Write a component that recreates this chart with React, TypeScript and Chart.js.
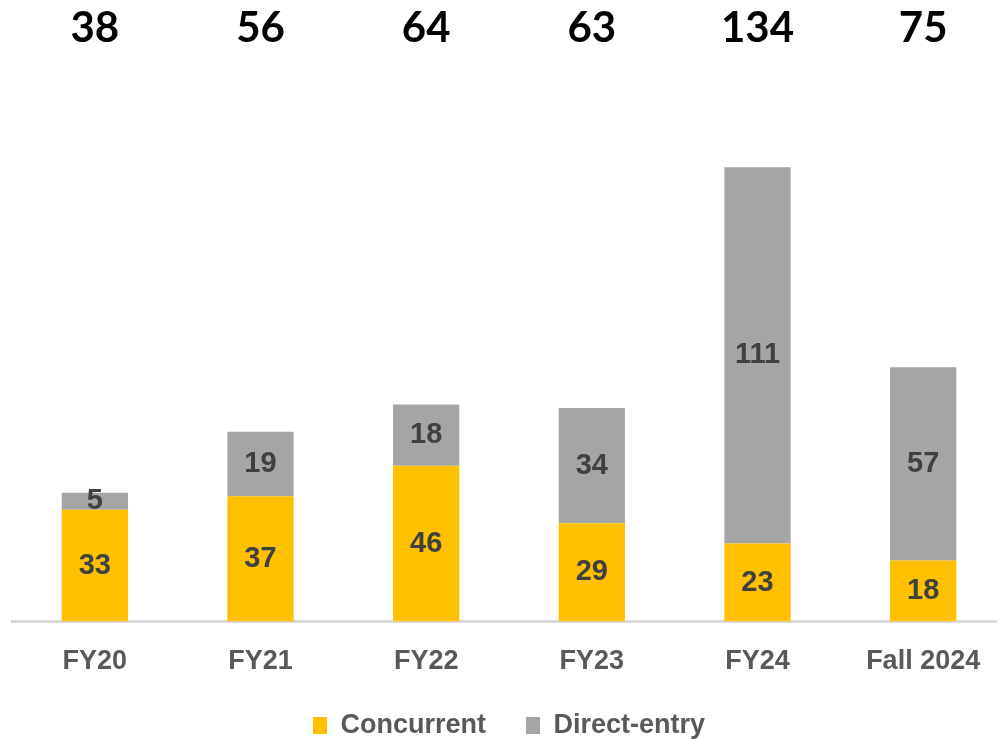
import React, { useEffect, useRef } from "react";
import { Chart, registerables } from "chart.js";

Chart.register(...registerables);

const categories = ["FY20", "FY21", "FY22", "FY23", "FY24", "Fall 2024"];
const concurrent = [33, 37, 46, 29, 23, 18];
const directEntry = [5, 19, 18, 34, 111, 57];
const totals = [38, 56, 64, 63, 134, 75];

const segmentLabels = {
  id: "segmentLabels",
  afterDatasetsDraw(chart: any) {
    const ctx = chart.ctx;
    ctx.save();
    ctx.font = "bold 29px 'Liberation Sans', Arial, sans-serif";
    ctx.fillStyle = "#404040";
    ctx.textAlign = "center";
    ctx.textBaseline = "middle";
    chart.data.datasets.forEach((ds: any, di: number) => {
      const meta = chart.getDatasetMeta(di);
      meta.data.forEach((el: any, i: number) => {
        const c = el.getCenterPoint();
        ctx.fillText(String(ds.data[i]), c.x, c.y);
      });
    });
    // totals above chart
    const meta = chart.getDatasetMeta(1);
    ctx.font = "bold 42px Lato, 'Open Sans', sans-serif";
    ctx.fillStyle = "#000000";
    meta.data.forEach((el: any, i: number) => {
      ctx.fillText(String(totals[i]), el.x, chart.chartArea.top - 85);
    });
    ctx.restore();
  },
};

export default function App() {
  const ref = useRef<HTMLCanvasElement | null>(null);
  useEffect(() => {
    if (!ref.current) return;
    const chart = new Chart(ref.current, {
      type: "bar",
      data: {
        labels: categories,
        datasets: [
          {
            label: "Concurrent",
            data: concurrent,
            backgroundColor: "#FFC000",
            barPercentage: 0.4,
            categoryPercentage: 1,
          },
          {
            label: "Direct-entry",
            data: directEntry,
            backgroundColor: "#A5A5A5",
            barPercentage: 0.4,
            categoryPercentage: 1,
          },
        ],
      },
      options: {
        animation: false,
        responsive: false,
        maintainAspectRatio: false,
        layout: { padding: { top: 113, left: 12, right: 12, bottom: 0 } },
        plugins: {
          tooltip: { enabled: false },
          legend: {
            position: "bottom",
            labels: {
              boxWidth: 14,
              boxHeight: 17,
              padding: 10,
              color: "#595959",
              font: { family: "'Liberation Sans', Arial, sans-serif", size: 27, weight: "bold" },
              generateLabels: (chart: any) => {
                const items = Chart.defaults.plugins.legend.labels.generateLabels(chart);
                return items.map((it: any, i: number) => ({
                  ...it,
                  text: i < items.length - 1 ? it.text + "\u00A0\u00A0\u00A0\u00A0" : it.text,
                  lineWidth: 0,
                }));
              },
            },
          },
        },
        scales: {
          x: {
            stacked: true,
            grid: { display: false, drawTicks: false },
            border: { display: true, color: "#D9D9D9", width: 3 },
            ticks: {
              padding: 24,
              color: "#595959",
              font: { family: "'Liberation Sans', Arial, sans-serif", size: 27, weight: "bold" },
            },
          },
          y: {
            stacked: true,
            display: false,
            min: 0,
            max: 150,
          },
        },
      },
      plugins: [segmentLabels],
    });
    return () => chart.destroy();
  }, []);
  return (
    <div style={{ position: "fixed", left: 0, top: 0, width: 997, height: 739, overflow: "hidden", background: "#fff" }}>
      <canvas ref={ref} width={1018} height={749} style={{ width: 1018, height: 749, display: "block" }} />
    </div>
  );
}
